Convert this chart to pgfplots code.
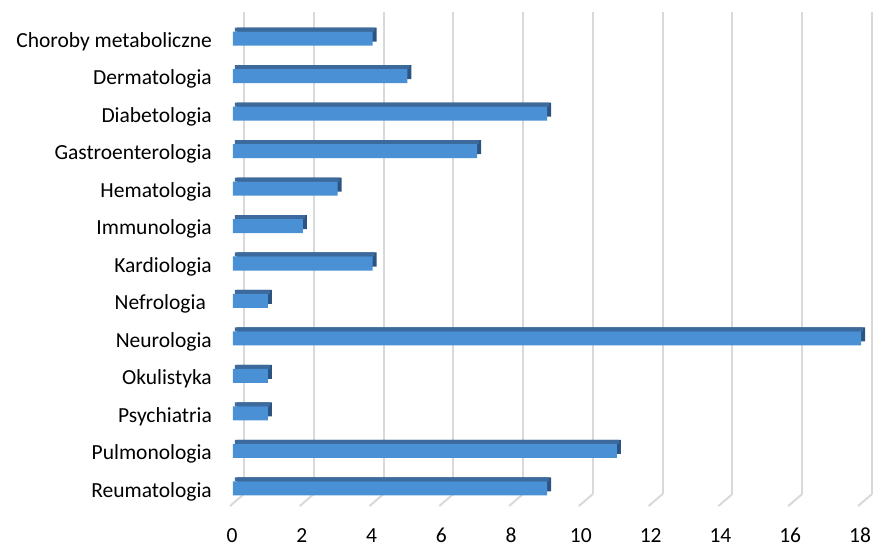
\documentclass[border=0pt]{standalone}
\usepackage{fontspec}
\setmainfont{Carlito}
\usepackage{pgfplots}
\pgfplotsset{compat=1.18}
\definecolor{frontc}{RGB}{74,144,212}
\definecolor{topc}{RGB}{60,106,156}
\definecolor{sidec}{RGB}{44,84,130}
\definecolor{gridc}{RGB}{217,217,217}
\begin{document}
\begin{tikzpicture}
\path[use as bounding box] (-233pt,-42pt) rectangle (644pt,506pt);
\begin{axis}[
  at={(0pt,0pt)}, anchor=south west,
  scale only axis,
  width=628pt, height=482pt,
  xmin=0, xmax=18, ymin=-0.4667, ymax=12.387,
  clip=false,
  axis line style={draw=none},
  tick style={draw=none},
  xtick={0,2,4,6,8,10,12,14,16,18},
  ytick={0,1,2,3,4,5,6,7,8,9,10,11,12},
  yticklabels={Reumatologia,Pulmonologia,Psychiatria,Okulistyka,Neurologia,{Nefrologia\rule{6pt}{0pt}},Kardiologia,Immunologia,Hematologia,Gastroenterologia,Diabetologia,Dermatologia,Choroby metaboliczne},
  /pgf/number format/assume math mode=true,
  xticklabel style={anchor=base, inner sep=0pt, yshift=-37pt, xshift=-1pt, font=\fontsize{21.5}{26}\selectfont},
  yticklabel style={anchor=east, inner sep=0pt, xshift=-21pt, yshift=-3pt, font=\fontsize{21.5}{26}\selectfont},
  xmajorgrids,
  major grid style={draw=gridc, line width=2pt, xshift=11pt, yshift=12pt},
]
\pgfplotsinvokeforeach{0,2,4,6,8,10,12,14,16,18}{
  \draw[gridc, line width=2pt] ([shift={(11pt,12pt)}]axis cs:#1,-0.4667) -- ([shift={(-3pt,0pt)}]axis cs:#1,-0.4667);
}
% side / back face
\addplot[xbar, bar width=14pt, bar shift=0pt, xshift=4pt, yshift=4pt, fill=sidec, draw=none] coordinates {
(9,0) (11,1) (1,2) (1,3) (18,4) (1,5) (4,6) (2,7) (3,8) (7,9) (9,10) (5,11) (4,12)};
% top face
\addplot[xbar, bar width=4pt, bar shift=0pt, xshift=2pt, yshift=9pt, fill=topc, draw=none] coordinates {
(9,0) (11,1) (1,2) (1,3) (18,4) (1,5) (4,6) (2,7) (3,8) (7,9) (9,10) (5,11) (4,12)};
% front face
\addplot[xbar, bar width=14pt, bar shift=0pt, fill=frontc, draw=none] coordinates {
(9,0) (11,1) (1,2) (1,3) (18,4) (1,5) (4,6) (2,7) (3,8) (7,9) (9,10) (5,11) (4,12)};
\end{axis}
\end{tikzpicture}
\end{document}
